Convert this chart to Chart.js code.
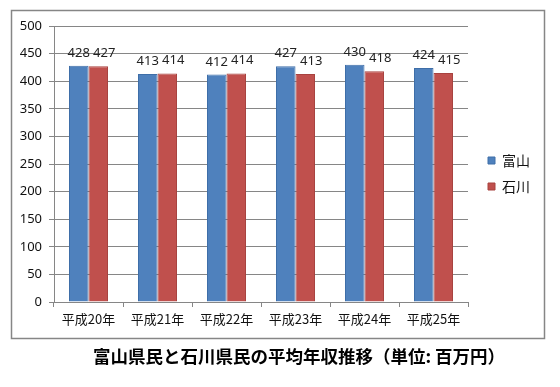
<!DOCTYPE html>
<html><head><meta charset="utf-8">
<script src="https://cdn.jsdelivr.net/npm/chart.js@4/dist/chart.umd.min.js"></script>
<style>html,body{margin:0;padding:0;background:#fff}#wrap{width:560px;height:387px}</style>
</head><body><div id="wrap"><canvas id="c" width="560" height="387"></canvas></div>
<script>
const categories = ["平成20年","平成21年","平成22年","平成23年","平成24年","平成25年"];
const toyama = [428,413,412,427,430,424];
const ishikawa = [427,414,414,413,418,415];
const seriesNames = ["富山","石川"];
const yTicks = [0,50,100,150,200,250,300,350,400,450,500];
const titleText = "富山県民と石川県民の平均年収推移（単位: 百万円）";

const CJK = "'Noto Sans CJK JP','Noto Sans',sans-serif";

const frame = {
  id:'frame',
  beforeDraw(chart){
    const ctx = chart.ctx;
    ctx.save();
    ctx.fillStyle='#fff'; ctx.fillRect(0,0,chart.width,chart.height);
    ctx.strokeStyle='#868686'; ctx.lineWidth=1.5;
    ctx.strokeRect(11.5,10.5,533,328);
    ctx.restore();
  }
};
const shiftBoxes = {
  id:'shiftBoxes',
  afterLayout(chart){
    const l = chart.legend;
    if(l){ l.left += 8; l.right += 8; l.top -= 33; l.bottom -= 33; }
    const t = chart.titleBlock;
    if(t){ t.left += 27; t.right += 27; }
  }
};
const valueLabels = {
  id:'valueLabels',
  afterDatasetsDraw(chart){
    const ctx = chart.ctx;
    ctx.save();
    ctx.font = "13px 'Noto Sans', sans-serif";
    ctx.fillStyle = '#222';
    ctx.textAlign='center'; ctx.textBaseline='alphabetic';
    chart.data.datasets.forEach((ds,i)=>{
      const dx = i === 1 ? 6 : 0;
      chart.getDatasetMeta(i).data.forEach((el,j)=>{
        ctx.fillText(String(ds.data[j]), el.x + dx, el.y - 9);
      });
    });
    ctx.restore();
  }
};

new Chart(document.getElementById('c'), {
  type:'bar',
  data:{
    labels:categories,
    datasets:[
      {label:seriesNames[0], data:toyama, backgroundColor:'#4F81BD', borderColor:'#3E6EA8', borderWidth:1},
      {label:seriesNames[1], data:ishikawa, backgroundColor:'#C0504D', borderColor:'#A8423F', borderWidth:1}
    ]
  },
  options:{
    responsive:false, animation:false,
    layout:{padding:{left:12, right:28, top:26, bottom:0}},
    datasets:{bar:{categoryPercentage:0.565, barPercentage:1.0}},
    plugins:{
      legend:{position:'right', align:'center',
        labels:{boxWidth:7, boxHeight:7, padding:12, color:'#111', font:{family:CJK, size:14}}},
      title:{display:true, position:'bottom', text:titleText, color:'#000',
        font:{family:CJK, size:17.5, weight:'bold'}, padding:{top:17,bottom:20}},
      tooltip:{enabled:false}
    },
    scales:{
      x:{
        grid:{display:true, drawOnChartArea:false, drawTicks:true, tickLength:5, color:'#868686'},
        border:{color:'#868686', width:1},
        ticks:{color:'#111', padding:4, font:{family:CJK, size:13}},
        afterFit(s){ s.height = 27; }
      },
      y:{
        min:0, max:500,
        afterBuildTicks(s){ s.ticks = yTicks.map(v=>({value:v})); },
        grid:{color:'#868686', tickLength:5, drawTicks:true},
        border:{color:'#868686', width:1},
        ticks:{color:'#111', padding:7, font:{family:"'Noto Sans', sans-serif", size:13}},
        afterFit(s){ s.width = 42; }
      }
    }
  },
  plugins:[frame, shiftBoxes, valueLabels]
});
</script></body></html>
